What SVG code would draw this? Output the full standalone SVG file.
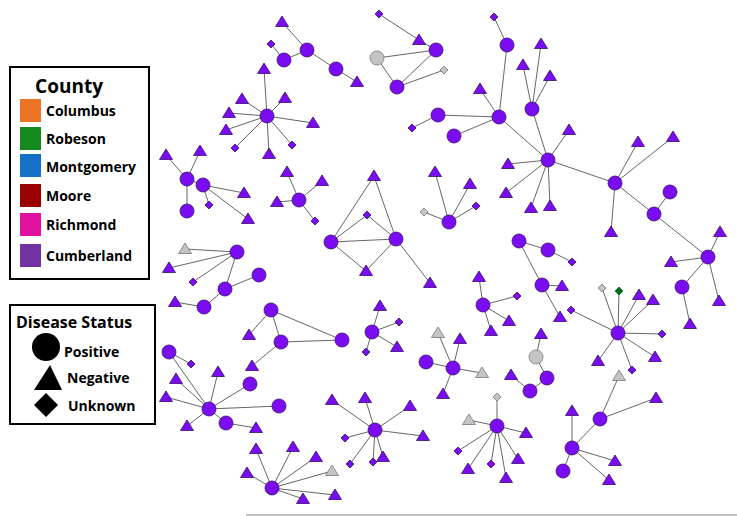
<svg xmlns="http://www.w3.org/2000/svg" xmlns:xlink="http://www.w3.org/1999/xlink" width="737" height="516" viewBox="0 0 737 516">
<style>
.e{stroke:#555;stroke-width:0.9;fill:none}
.p{fill:#7a0cf2;stroke:#3a0a70;stroke-width:0.8}
.g{fill:#c4c4c4;stroke:#777;stroke-width:0.8}
.r{fill:#0c6a12;stroke:#063;stroke-width:0.8}
.lt{font-family:"Open Sans","Liberation Sans",sans-serif;font-weight:bold;fill:#000}
</style>
<defs>
<circle id="C" r="7"/>
<polygon id="T" points="0,-6 6.5,4.5 -6.5,4.5"/>
<polygon id="D" points="0,-4 4,0 0,4 -4,0"/>
</defs>
<rect width="737" height="516" fill="#fff"/>
<line x1="246" y1="515" x2="737" y2="515" stroke="#888" stroke-width="1.2"/>
<g id="connectors" class="e">
<path d="M282,22L307,50M307,50L284,60M271,44L284,60M307,50L336,69M336,69L357,82"/>
<path d="M379,14L419,40L436,50M377,58L436,50M377,58L397,87M397,87L436,50M397,87L444,70"/>
<path d="M267,116L264,69M267,116L242,99M267,116L285,98M267,116L229,113M267,116L226,130M267,116L313,123M267,116L235,148M267,116L269,154M267,116L292,145"/>
<path d="M187,179L166,155M187,179L200,151M187,179L187,211M187,179L203,185M203,185L209,205M203,185L244,193M203,185L248,219"/>
<path d="M299,200L287,172M299,200L322,181M299,200L277,202M299,200L315,221"/>
<path d="M331,242L374,176L396,239M331,242L367,215L396,239M331,242L396,239M331,242L366,271L396,239M396,239L430,283"/>
<path d="M412,128L438,115L499,117M454,136L499,117M480,89L499,117M507,45L499,117M494,17L507,45M499,117L548,160M532,109L548,160M523,65L532,109M541,44L532,109M550,76L532,109M569,130L548,160M508,164L548,160M506,193L548,160M531,208L548,160M550,206L548,160M548,160L615,183M615,183L638,142M615,183L673,137M615,183L611,232M615,183L654,214M654,214L670,192M654,214L708,257M708,257L720,232M708,257L671,262M708,257L682,287M682,287L690,324M708,257L719,301"/>
<path d="M449,222L435,172M449,222L470,184M449,222L424,212M449,222L476,206"/>
<path d="M519,241L548,250L572,262M519,241L542,285L562,286M542,285L560,317"/>
<path d="M483,305L479,277M483,305L517,296M483,305L509,321M483,305L491,331"/>
<path d="M618,333L602,288M618,333L619,291M618,333L639,295M618,333L653,300M618,333L571,310M618,333L662,334M618,333L598,361M618,333L655,357M618,333L632,370"/>
<path d="M541,334L536,357L547,378L530,391L511,375"/>
<path d="M453,368L438,333M453,368L460,339M453,368L426,362M453,368L482,373M453,368L443,394"/>
<path d="M497,426L497,397M497,426L469,420M497,426L526,433M497,426L458,451M497,426L468,469M497,426L491,464M497,426L506,478M497,426L518,459"/>
<path d="M572,448L600,419L619,376M600,419L656,398M572,448L572,411M572,448L563,471M572,448L615,461M572,448L609,480"/>
<path d="M237,252L185,249M237,252L169,268M237,252L193,282M237,252L225,289L259,275M225,289L204,307L175,302"/>
<path d="M271,310L249,335M271,310L281,342M271,310L342,340M281,342L342,340M281,342L252,366"/>
<path d="M372,332L380,306M372,332L399,322M372,332L397,347M372,332L366,352"/>
<path d="M169,352L191,364M169,352L209,409M176,379L209,409M218,372L209,409M166,397L209,409M250,384L209,409M279,406L209,409M187,426L209,409M226,423L209,409M226,423L256,428"/>
<path d="M375,430L332,400M375,430L365,398M375,430L410,406M375,430L423,436M375,430L345,438M375,430L350,464M375,430L373,462M375,430L383,457"/>
<path d="M272,488L256,449M272,488L293,447M272,488L316,457M272,488L332,471M272,488L247,473M272,488L335,495M272,488L303,499"/>
</g>
<g id="c1"><use href="#T" class="p" x="282" y="22"/><use href="#C" class="p" x="307" y="50"/><use href="#D" class="p" x="271" y="44"/><use href="#C" class="p" x="284" y="60"/><use href="#C" class="p" x="336" y="69"/><use href="#T" class="p" x="357" y="82"/></g>
<g id="c2"><use href="#D" class="p" x="379" y="14"/><use href="#T" class="p" x="419" y="40"/><use href="#C" class="p" x="436" y="50"/><use href="#C" class="g" x="377" y="58"/><use href="#C" class="p" x="397" y="87"/><use href="#D" class="g" x="444" y="70"/></g>
<g id="c3"><use href="#T" class="p" x="264" y="69"/><use href="#T" class="p" x="242" y="99"/><use href="#T" class="p" x="285" y="98"/><use href="#T" class="p" x="229" y="113"/><use href="#T" class="p" x="226" y="130"/><use href="#T" class="p" x="313" y="123"/><use href="#D" class="p" x="235" y="148"/><use href="#T" class="p" x="269" y="154"/><use href="#D" class="p" x="292" y="145"/><use href="#C" class="p" x="267" y="116"/></g>
<g id="c4"><use href="#T" class="p" x="166" y="155"/><use href="#T" class="p" x="200" y="151"/><use href="#C" class="p" x="187" y="211"/><use href="#D" class="p" x="209" y="205"/><use href="#T" class="p" x="244" y="193"/><use href="#T" class="p" x="248" y="219"/><use href="#C" class="p" x="187" y="179"/><use href="#C" class="p" x="203" y="185"/></g>
<g id="c5"><use href="#T" class="p" x="287" y="172"/><use href="#T" class="p" x="322" y="181"/><use href="#T" class="p" x="277" y="202"/><use href="#D" class="p" x="315" y="221"/><use href="#C" class="p" x="299" y="200"/></g>
<g id="c6"><use href="#T" class="p" x="374" y="176"/><use href="#D" class="p" x="367" y="215"/><use href="#T" class="p" x="366" y="271"/><use href="#T" class="p" x="430" y="283"/><use href="#C" class="p" x="331" y="242"/><use href="#C" class="p" x="396" y="239"/></g>
<g id="c7"><use href="#D" class="p" x="412" y="128"/><use href="#C" class="p" x="438" y="115"/><use href="#C" class="p" x="454" y="136"/><use href="#T" class="p" x="480" y="89"/><use href="#D" class="p" x="494" y="17"/><use href="#C" class="p" x="507" y="45"/><use href="#C" class="p" x="499" y="117"/><use href="#T" class="p" x="523" y="65"/><use href="#T" class="p" x="541" y="44"/><use href="#T" class="p" x="550" y="76"/><use href="#C" class="p" x="532" y="109"/><use href="#T" class="p" x="569" y="130"/><use href="#T" class="p" x="508" y="164"/><use href="#T" class="p" x="506" y="193"/><use href="#T" class="p" x="531" y="208"/><use href="#T" class="p" x="550" y="206"/><use href="#C" class="p" x="548" y="160"/><use href="#T" class="p" x="638" y="142"/><use href="#T" class="p" x="673" y="137"/><use href="#T" class="p" x="611" y="232"/><use href="#C" class="p" x="615" y="183"/><use href="#C" class="p" x="670" y="192"/><use href="#C" class="p" x="654" y="214"/><use href="#T" class="p" x="720" y="232"/><use href="#T" class="p" x="671" y="262"/><use href="#C" class="p" x="682" y="287"/><use href="#T" class="p" x="690" y="324"/><use href="#T" class="p" x="719" y="301"/><use href="#C" class="p" x="708" y="257"/></g>
<g id="c8"><use href="#T" class="p" x="435" y="172"/><use href="#T" class="p" x="470" y="184"/><use href="#D" class="g" x="424" y="212"/><use href="#D" class="p" x="476" y="206"/><use href="#C" class="p" x="449" y="222"/></g>
<g id="c9"><use href="#C" class="p" x="519" y="241"/><use href="#C" class="p" x="548" y="250"/><use href="#D" class="p" x="572" y="262"/><use href="#T" class="p" x="562" y="286"/><use href="#T" class="p" x="560" y="317"/><use href="#C" class="p" x="542" y="285"/></g>
<g id="c10"><use href="#T" class="p" x="479" y="277"/><use href="#D" class="p" x="517" y="296"/><use href="#T" class="p" x="509" y="321"/><use href="#T" class="p" x="491" y="331"/><use href="#C" class="p" x="483" y="305"/></g>
<g id="c11"><use href="#D" class="g" x="602" y="288"/><use href="#D" class="r" x="619" y="291"/><use href="#T" class="p" x="639" y="295"/><use href="#T" class="p" x="653" y="300"/><use href="#D" class="p" x="571" y="310"/><use href="#D" class="p" x="662" y="334"/><use href="#T" class="p" x="598" y="361"/><use href="#T" class="p" x="655" y="357"/><use href="#D" class="p" x="632" y="370"/><use href="#C" class="p" x="618" y="333"/></g>
<g id="c12"><use href="#T" class="p" x="541" y="334"/><use href="#C" class="g" x="536" y="357"/><use href="#C" class="p" x="547" y="378"/><use href="#C" class="p" x="530" y="391"/><use href="#T" class="p" x="511" y="375"/></g>
<g id="c13"><use href="#T" class="g" x="438" y="333"/><use href="#T" class="p" x="460" y="339"/><use href="#C" class="p" x="426" y="362"/><use href="#T" class="g" x="482" y="373"/><use href="#T" class="p" x="443" y="394"/><use href="#C" class="p" x="453" y="368"/></g>
<g id="c14"><use href="#D" class="g" x="497" y="397"/><use href="#T" class="g" x="469" y="420"/><use href="#T" class="p" x="526" y="433"/><use href="#D" class="p" x="458" y="451"/><use href="#T" class="p" x="468" y="469"/><use href="#D" class="p" x="491" y="464"/><use href="#T" class="p" x="506" y="478"/><use href="#T" class="p" x="518" y="459"/><use href="#C" class="p" x="497" y="426"/></g>
<g id="c15"><use href="#T" class="g" x="619" y="376"/><use href="#T" class="p" x="656" y="398"/><use href="#C" class="p" x="600" y="419"/><use href="#T" class="p" x="572" y="411"/><use href="#C" class="p" x="563" y="471"/><use href="#T" class="p" x="615" y="461"/><use href="#T" class="p" x="609" y="480"/><use href="#C" class="p" x="572" y="448"/></g>
<g id="c16"><use href="#T" class="g" x="185" y="249"/><use href="#T" class="p" x="169" y="268"/><use href="#D" class="p" x="193" y="282"/><use href="#C" class="p" x="259" y="275"/><use href="#T" class="p" x="175" y="302"/><use href="#C" class="p" x="204" y="307"/><use href="#C" class="p" x="225" y="289"/><use href="#C" class="p" x="237" y="252"/></g>
<g id="c17"><use href="#T" class="p" x="249" y="335"/><use href="#T" class="p" x="252" y="366"/><use href="#C" class="p" x="342" y="340"/><use href="#C" class="p" x="271" y="310"/><use href="#C" class="p" x="281" y="342"/></g>
<g id="c18"><use href="#T" class="p" x="380" y="306"/><use href="#D" class="p" x="399" y="322"/><use href="#T" class="p" x="397" y="347"/><use href="#D" class="p" x="366" y="352"/><use href="#C" class="p" x="372" y="332"/></g>
<g id="c19"><use href="#C" class="p" x="169" y="352"/><use href="#D" class="p" x="191" y="364"/><use href="#T" class="p" x="176" y="379"/><use href="#T" class="p" x="218" y="372"/><use href="#T" class="p" x="166" y="397"/><use href="#C" class="p" x="250" y="384"/><use href="#C" class="p" x="279" y="406"/><use href="#T" class="p" x="187" y="426"/><use href="#T" class="p" x="256" y="428"/><use href="#C" class="p" x="226" y="423"/><use href="#C" class="p" x="209" y="409"/></g>
<g id="c20"><use href="#T" class="p" x="332" y="400"/><use href="#T" class="p" x="365" y="398"/><use href="#T" class="p" x="410" y="406"/><use href="#T" class="p" x="423" y="436"/><use href="#D" class="p" x="345" y="438"/><use href="#D" class="p" x="350" y="464"/><use href="#D" class="p" x="373" y="462"/><use href="#T" class="p" x="383" y="457"/><use href="#C" class="p" x="375" y="430"/></g>
<g id="c21"><use href="#T" class="p" x="256" y="449"/><use href="#T" class="p" x="293" y="447"/><use href="#T" class="p" x="316" y="457"/><use href="#T" class="g" x="332" y="471"/><use href="#T" class="p" x="247" y="473"/><use href="#T" class="p" x="335" y="495"/><use href="#T" class="p" x="303" y="499"/><use href="#C" class="p" x="272" y="488"/></g>
<g id="legend-county">
<rect x="10" y="67" width="139" height="212" fill="#fff" stroke="#000" stroke-width="2"/>
<text class="lt" x="69" y="93" font-size="19" text-anchor="middle">County</text>
<rect x="20" y="99" width="21" height="23" fill="#ec7424"/>
<rect x="20" y="127" width="21" height="23" fill="#138a1b"/>
<rect x="20" y="154" width="21" height="23" fill="#1372c6"/>
<rect x="20" y="184" width="21" height="23" fill="#9a0000"/>
<rect x="20" y="213" width="21" height="23" fill="#e0119f"/>
<rect x="20" y="244" width="21" height="23" fill="#7232a2"/>
<g font-size="14"><text class="lt" x="46" y="116">Columbus</text>
<text class="lt" x="46" y="144">Robeson</text>
<text class="lt" x="46" y="172">Montgomery</text>
<text class="lt" x="46" y="201">Moore</text>
<text class="lt" x="46" y="230">Richmond</text>
<text class="lt" x="46" y="261">Cumberland</text></g>
</g>
<g id="legend-status">
<rect x="10" y="305" width="145" height="119" fill="#fff" stroke="#000" stroke-width="2"/>
<text class="lt" x="16" y="328" font-size="16">Disease Status</text>
<circle cx="46" cy="347" r="14" fill="#000"/>
<text class="lt" x="64" y="357" font-size="14">Positive</text>
<polygon points="50,365 62,390 34,390" fill="#000"/>
<text class="lt" x="67" y="383" font-size="14">Negative</text>
<polygon points="46,393 58,405 46,417 34,405" fill="#000"/>
<text class="lt" x="68" y="411" font-size="14">Unknown</text>
</g>
</svg>
